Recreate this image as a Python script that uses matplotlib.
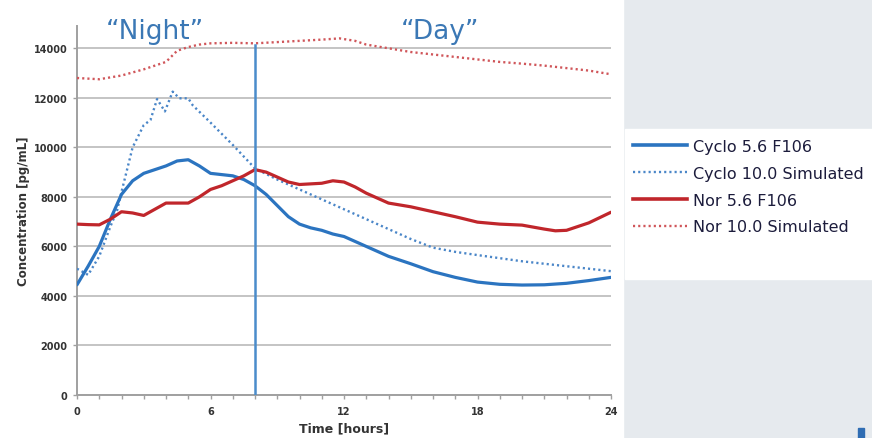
import matplotlib
matplotlib.use("Agg")
import matplotlib.pyplot as plt
from matplotlib.patches import Rectangle
from matplotlib.lines import Line2D

# values
cyclo_hours = [0, 0.5, 1, 1.5, 2, 2.5, 3, 3.5, 4, 4.5, 5, 5.5, 6, 6.5, 7, 7.5, 8, 8.5, 9, 9.5,
               10, 10.5, 11, 11.5, 12, 13, 14, 15, 16, 17, 18, 19, 20, 21, 22, 23, 24]
cyclo_56 = [4450, 5200, 6000, 7100, 8100, 8650, 8950, 9100, 9250, 9450, 9500, 9250, 8950, 8900, 8850, 8700, 8450, 8100, 7650, 7200,
            6900, 6750, 6650, 6500, 6400, 6000, 5600, 5300, 4980, 4750, 4560, 4470, 4440, 4450, 4510, 4620, 4750]

cyclo_sim_hours = [0, 0.5, 1, 1.5, 1.8, 2, 2.5, 3, 3.3, 3.6, 3.95, 4.3, 4.6, 5.0, 5.2, 6, 7, 8, 9, 10,
                   11, 12, 13, 14, 15, 16, 17, 18, 20, 22, 24]
cyclo_100_sim = [5100, 4850, 5600, 6800, 7450, 8200, 10000, 10900, 11100, 11950, 11450, 12250, 11980, 11980, 11700, 11000, 10100, 9150, 8700, 8300,
                 7900, 7500, 7100, 6700, 6300, 5950, 5780, 5650, 5400, 5200, 5000]

nor_hours = [0, 0.5, 1, 1.5, 2, 2.5, 3, 3.5, 4, 4.5, 5, 5.5, 6, 6.5, 7, 7.5, 8, 8.5, 9, 9.5,
             10, 11, 11.5, 12, 12.5, 13, 13.5, 14, 15, 16, 17, 18, 19, 20, 21, 21.5, 22, 23, 24]
nor_56 = [6900, 6880, 6870, 7100, 7400, 7350, 7250, 7500, 7750, 7750, 7750, 8000, 8300, 8450, 8650, 8850, 9100, 9000, 8800, 8600,
          8500, 8550, 8650, 8600, 8400, 8150, 7950, 7750, 7600, 7400, 7200, 6980, 6900, 6860, 6700, 6630, 6650, 6950, 7380]

nor_sim_hours = [0, 1, 2, 3, 4, 4.5, 5, 5.5, 6, 7, 8, 9, 10, 11, 11.8, 12.5, 13, 14, 15, 16,
                 17, 18, 19, 20, 21, 22, 23, 24]
nor_100_sim = [12800, 12750, 12900, 13150, 13450, 13900, 14050, 14150, 14200, 14220, 14200, 14250, 14300, 14350, 14400, 14300, 14150, 14000, 13850, 13750,
               13650, 13550, 13450, 13380, 13300, 13200, 13100, 12950]

x_ticks = [0, 6, 12, 18, 24]
y_ticks = [0, 2000, 4000, 6000, 8000, 10000, 12000, 14000]
split_hour = 8

blue = "#2b74c0"
red = "#c0262b"
red_dot = "#d0565a"
grid_gray = "#c4c4c4"

fig = plt.figure(figsize=(8.72, 4.39), dpi=100)
fig.patch.set_facecolor("#e6eaee")

# white slide panels behind the chart and the legend
fig.patches.append(Rectangle((0, 0), 623 / 872, 1, transform=fig.transFigure, color="white", zorder=-1))
fig.patches.append(Rectangle((625 / 872, (439 - 280) / 439), 247 / 872, 150 / 439,
                             transform=fig.transFigure, color="white", zorder=-1))
fig.patches.append(Rectangle((858 / 872, 0), 6 / 872, 10 / 439, transform=fig.transFigure,
                             color="#2f6db3", zorder=-1))

ax = fig.add_axes([77 / 872, 43 / 439, 534 / 872, 369 / 439])
ax.set_facecolor("none")
ax.set_zorder(2)

ax.plot(cyclo_hours, cyclo_56, color=blue, lw=2.3, solid_capstyle="round", zorder=4)
ax.plot(cyclo_sim_hours, cyclo_100_sim, color="#4a86c8", lw=1.7, linestyle=(0, (0.9, 1.3)), zorder=3)
ax.plot(nor_hours, nor_56, color=red, lw=2.3, solid_capstyle="round", zorder=4)
ax.plot(nor_sim_hours, nor_100_sim, color=red_dot, lw=1.7, linestyle=(0, (0.9, 1.3)), zorder=3)

ax.plot([split_hour, split_hour], [0, 14150], color="#4a8ccb", lw=1.8, zorder=5)

ax.set_xlim(0, 24)
ax.set_ylim(0, 14900)
ax.set_xticks(x_ticks)
ax.set_xticks(range(0, 25), minor=True)
ax.set_yticks(y_ticks)
ax.yaxis.grid(True, color=grid_gray, lw=1.4)
ax.set_axisbelow(True)

for side in ["top", "right"]:
    ax.spines[side].set_visible(False)
for side in ["left", "bottom"]:
    ax.spines[side].set_color("#a0a0a0")
    ax.spines[side].set_linewidth(1.4)

ax.tick_params(axis="both", which="both", colors="#a0a0a0", labelcolor="#333333",
               labelsize=7, width=1)
ax.tick_params(axis="x", which="major", length=3, pad=5)
ax.tick_params(axis="x", which="minor", length=3)
ax.tick_params(axis="y", length=3, pad=4)
for lbl in ax.get_xticklabels() + ax.get_yticklabels():
    lbl.set_fontweight("bold")

ax.set_xlabel("Time [hours]", fontsize=9, fontweight="bold", color="#333333", labelpad=4)
ax.set_ylabel("Concentration [pg/mL]", fontsize=8.5, fontweight="bold", color="#333333")
ax.yaxis.set_label_coords(-0.088, 0.5)

fig.text(155 / 872, 1 - 32 / 439, "\u201cNight\u201d", fontsize=19, color="#3b78b5",
         ha="center", va="center")
fig.text(440 / 872, 1 - 32 / 439, "\u201cDay\u201d", fontsize=19, color="#3b78b5",
         ha="center", va="center")

handles = [
    Line2D([], [], color=blue, lw=2.6),
    Line2D([], [], color="#4a86c8", lw=1.7, linestyle=(0, (0.9, 1.3))),
    Line2D([], [], color=red, lw=2.6),
    Line2D([], [], color=red_dot, lw=1.7, linestyle=(0, (0.9, 1.3))),
]
labels = ["Cyclo 5.6 F106", "Cyclo 10.0 Simulated", "Nor 5.6 F106", "Nor 10.0 Simulated"]
fig.legend(handles, labels, loc="upper left", bbox_to_anchor=(633 / 872, 1 - 140 / 439),
           frameon=False, fontsize=11.5, handlelength=3.4, handletextpad=0.35,
           labelspacing=0.74, labelcolor="#1c1c3c", borderaxespad=0, borderpad=0)

fig.savefig("out.png", dpi=100)
